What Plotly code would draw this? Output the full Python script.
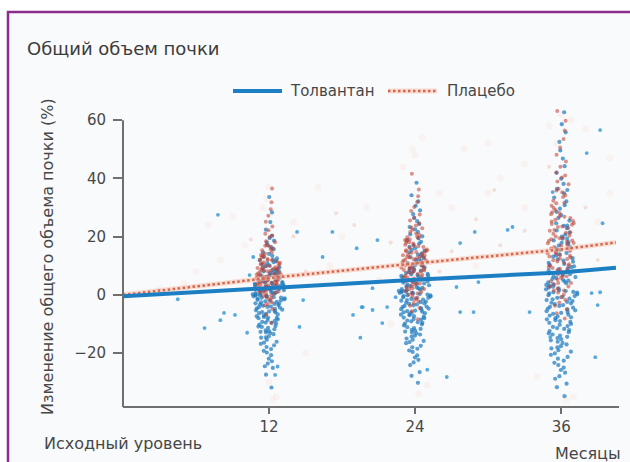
import plotly.graph_objects as go

# --- data -------------------------------------------------------------
months = [0, 12, 24, 36, 40.5]
tolvaptan_mean = [-0.5, 2.5, 5.2, 7.7, 9.3]
placebo_mean = [0.0, 5.8, 10.8, 15.6, 18.0]

visit_months = [12, 24, 36]

tolvaptan_12 = [-31.8, -27.4, -25.1, -23.6, -21.9, -20.7, -19.8, -18.6, -17.9, -16.8,
                -16.1, -15.4, -14.7, -14.2, -13.5, -12.9, -12.4, -11.8, -11.3, -10.7,
                -10.2, -9.8, -9.3, -8.9, -8.4, -8.0, -7.6, -7.1, -6.7, -6.3, -5.9, -5.5,
                -5.1, -4.8, -4.4, -4.0, -3.7, -3.3, -2.9, -2.6, -2.2, -1.9, -1.5, -1.2,
                -0.8, -0.5, -0.1, 0.2, 0.6, 0.9, 1.3, 1.6, 2.0, 2.3, 2.7, 3.1, 3.4, 3.8,
                4.2, 4.6, 5.0, 5.4, 5.9, 6.3, 6.8, 7.2, 7.7, 8.3, 8.8, 9.4, 10.1, 10.8,
                11.6, 12.5, 13.4, 14.5, 15.7, 17.0, 18.6, 20.3, 22.4, 25.0, 28.3, 33.6,
                -13.1, -9.5, -6.0, -3.0, -0.3, 1.9, 4.0, 6.6, -11.0, -7.9, -4.2, -1.0,
                0.4, 2.9, 5.6, 8.0,
                -14.6, -12.2, -10.9, -9.6, -8.6, -7.8, -7.3, -6.5, -5.7, -5.3, -4.6,
                -4.1, -3.5, -3.1, -2.4, -2.0, -1.7, -1.3, -0.9, -0.6, -0.2, 0.1, 0.3,
                0.7, 1.1, 1.4, 1.8, 2.1, 2.5, 2.8, 3.2, 3.6, 4.1, 4.4, 4.8, 5.2, 5.7, 6.1,
                6.5, 7.0, 7.5, 8.1, 8.6, 9.1, 9.8, 10.5, 11.2, 12.1, 13.0, 14.1, -19.2,
                -16.4, -12.7, -17.3, 16.3, 18.0, 19.5, -22.8, -24.5, 11.9]
placebo_12 = [-9.6, -6.8, -4.9, -3.6, -2.5, -1.6, -0.8, -0.1, 0.6, 1.2, 1.8, 2.3, 2.8,
              3.3, 3.8, 4.2, 4.7, 5.1, 5.6, 6.0, 6.5, 6.9, 7.4, 7.9, 8.4, 8.9, 9.5, 10.1,
              10.8, 11.5, 12.3, 13.2, 14.2, 15.3, 16.6, 18.1, 19.9, 22.2, 25.1, 29.4,
              36.5, 0.9, 2.0, 3.0, 4.0, 5.3, 6.3, 7.1, 8.1, 9.2, 10.4, 11.9, 13.7, 15.9,
              1.5, 3.6, 5.8, 8.6, 12.0, 17.2, -1.2, 4.5, 6.7, 9.8, 21.0,
              -3.1, -0.4, 0.3, 1.0, 1.6, 2.1, 2.6, 3.1, 3.5, 4.0, 4.4, 4.9, 5.4, 5.8,
              6.2, 6.6, 7.2, 7.6, 8.2, 8.7, 9.3, 9.9, 10.6, 11.2, 12.0, 12.8, 13.5,
              14.6, 15.6, 16.9, 18.4, 20.4, 23.5, 27.2, 31.8, 2.5, 5.0, 7.0, 9.0, 11.0]

tolvaptan_24 = [-30.2, -26.5, -24.1, -22.3, -20.8, -19.6, -18.5, -17.5, -16.6, -15.8,
                -15.0, -14.3, -13.6, -12.9, -12.3, -11.7, -11.1, -10.5, -9.9, -9.4, -8.8,
                -8.3, -7.8, -7.3, -6.8, -6.3, -5.8, -5.4, -4.9, -4.5, -4.0, -3.6, -3.1,
                -2.7, -2.3, -1.8, -1.4, -1.0, -0.6, -0.1, 0.3, 0.7, 1.1, 1.6, 2.0, 2.4,
                2.9, 3.3, 3.7, 4.2, 4.6, 5.1, 5.5, 6.0, 6.5, 7.0, 7.5, 8.0, 8.6, 9.1, 9.7,
                10.3, 10.9, 11.6, 12.3, 13.0, 13.8, 14.6, 15.5, 16.5, 17.6, 18.8, 20.1,
                21.6, 23.3, 25.3, 27.7, 30.6, 34.2, 38.5, -16.2, -12.0, -9.1, -6.1, -3.8,
                -0.4, 0.9, 1.4, 2.2, 3.0, 4.4, 6.8, 8.3, 12.7, -14.0, -7.0, 5.8, 10.6,
                -21.5, -18.0, -15.4, -13.2, -11.4, -10.1, -9.6, -8.5, -8.0, -7.5, -6.6,
                -6.0, -5.6, -5.1, -4.7, -4.2, -3.3, -2.9, -2.5, -2.0, -1.6, -1.2, -0.8,
                -0.2, 0.1, 0.5, 0.8, 1.3, 1.8, 2.6, 3.5, 3.9, 4.8, 5.3, 6.2, 6.7, 7.2,
                7.8, 8.8, 9.4, 10.0, 11.3, 11.9, 13.4, 14.2, 15.1, 16.0, 17.1, 18.2,
                19.4, 20.8, 22.5, 24.3, 26.4, 29.0, 32.1, -23.2, -19.1, -12.6, -27.8]
placebo_24 = [-8.4, -5.6, -3.7, -2.2, -1.0, 0.1, 1.0, 1.9, 2.7, 3.5, 4.2, 4.9, 5.6, 6.2,
              6.9, 7.5, 8.1, 8.7, 9.3, 9.9, 10.5, 11.1, 11.7, 12.3, 12.9, 13.6, 14.2, 14.9,
              15.6, 16.4, 17.2, 18.1, 19.0, 20.0, 21.1, 22.4, 23.8, 25.5, 27.6, 30.2,
              33.9, 41.6, 2.3, 4.5, 6.0, 7.8, 9.0, 10.2, 11.4, 12.6, 13.9, 15.2, 16.9,
              18.6, 20.6, 0.6, 5.2, 8.4, 11.9, 14.5, 17.6, 22.9, -1.6, 3.1, 9.6, 13.3,
              -4.5, -2.8, -0.5, 0.5, 1.4, 2.0, 3.9, 4.7, 5.3, 6.6, 7.2, 8.0, 8.9, 9.5,
              10.0, 10.8, 11.5, 12.1, 12.8, 13.6, 14.7, 15.3, 16.1, 16.7, 17.9, 18.8,
              19.5, 21.6, 23.1, 24.6, 26.5, 28.8, 31.9, 36.2, 6.1, 8.5, 11.0, 13.0,
              15.0, 19.8]

tolvaptan_36 = [-34.8, -30.5, -27.9, -25.8, -24.1, -22.6, -21.3, -20.1, -19.0, -18.0,
                -17.0, -16.1, -15.2, -14.4, -13.6, -12.8, -12.1, -11.4, -10.7, -10.0,
                -9.3, -8.7, -8.0, -7.4, -6.8, -6.2, -5.6, -5.0, -4.4, -3.8, -3.2, -2.7,
                -2.1, -1.5, -1.0, -0.4, 0.2, 0.8, 1.3, 1.9, 2.5, 3.1, 3.7, 4.3, 4.9, 5.5,
                6.1, 6.8, 7.4, 8.1, 8.8, 9.5, 10.2, 11.0, 11.8, 12.6, 13.5, 14.4, 15.4,
                16.4, 17.5, 18.7, 20.0, 21.4, 22.9, 24.6, 26.4, 28.5, 30.8, 33.4, 36.4,
                39.9, 44.2, 49.6, 55.8, 62.7, -18.4, -14.8, -11.7, -9.0, -6.5, -4.1, -1.8,
                0.5, 2.8, 5.2, 7.7, 10.6, 13.9, 17.9, 23.7, -16.5, -7.7, 1.0, 9.1, 19.3,
                -28.8, -26.7, -23.3, -21.9, -20.6, -19.5, -17.6, -15.6, -14.0, -13.2,
                -12.4, -11.0, -10.3, -9.6, -8.4, -7.1, -5.9, -5.3, -4.7, -3.5, -2.9, -2.4,
                -1.3, -0.7, -0.1, 0.9, 1.6, 2.2, 3.4, 4.0, 4.6, 5.8, 6.4, 7.1, 8.4, 9.8,
                11.4, 12.2, 13.1, 14.9, 15.9, 17.0, 18.1, 19.3, 20.7, 22.1, 23.8, 25.5,
                27.4, 29.6, 32.1, 34.9, 38.1, 41.9, 46.8, 52.5, 58.6, -31.7, -25.0, 36.0]
placebo_36 = [-8.1, -4.9, -2.6, -0.8, 0.8, 2.2, 3.5, 4.7, 5.9, 7.0, 8.0, 9.0, 10.0, 11.0,
              11.9, 12.8, 13.7, 14.6, 15.5, 16.4, 17.3, 18.2, 19.1, 20.0, 21.0, 22.0,
              23.0, 24.1, 25.2, 26.4, 27.7, 29.1, 30.6, 32.3, 34.2, 36.4, 38.9, 42.0,
              45.8, 50.6, 56.4, 63.1, 4.1, 6.4, 8.6, 10.5, 12.3, 14.1, 15.9, 17.7, 19.6,
              21.5, 23.5, 25.8, 28.4, 31.5, 35.2, 1.5, 9.5, 13.2, 18.7, 24.6, 2.9, 16.0,
              27.0, 40.3,
              -6.3, -3.7, -1.7, 0.0, 1.5, 2.9, 4.1, 5.3, 6.5, 7.5, 8.3, 9.2, 10.2, 11.5,
              12.5, 13.4, 14.3, 15.1, 16.9, 17.8, 18.5, 19.4, 20.4, 21.3, 22.3, 23.3,
              24.3, 25.4, 26.8, 28.1, 29.8, 31.6, 33.6, 35.8, 38.0, 41.0, 44.0, 48.1,
              53.5, 59.8]

# visits outside the scheduled windows
tolvaptan_other_x = [4.5, 8.3, 7.8, 14.3, 17.2, 19.2, 10.7, 16.4, 10.4, 20.5, 14.8, 8.0,
                     9.2, 6.7, 10.2, 14.5, 19.5, 18.9, 20.5, 19.7, 12.7, 12.5, 20.9, 19.6,
                     21.3, 21.7, 22.4, 27.4, 27.7, 28.8, 28.9, 27.7, 26.6, 25.0, 29.2,
                     31.6, 32.0, 33.4, 35.3, 39.2, 38.8, 38.5, 39.2, 39.0, 39.4, 38.1, 35.1]
tolvaptan_other_y = [-1.5, -6.2, 27.5, 21.6, 21.6, 16.0, 13.0, 13.0, 6.8, 2.3, -1.8, -8.7,
                     -6.9, -11.4, -13.0, -11.0, -14.7, -6.9, -5.2, -4.2, -24.6, -27.5,
                     18.8, -4.2, -9.7, -4.2, -0.8, 2.7, -5.9, -5.9, 21.6, 17.8, -28.2,
                     -25.7, 4.4, 22.3, 23.3, -5.9, 35.3, 56.6, -21.4, 0.6, 0.9, -3.5, 24.6,
                     48.7, -14.5]

placebo_other_x = [14.0, 19.0, 22.0, 27.0, 29.0, 33.0, 38.0, 39.0, 10.5, 15.0, 26.0,
                   31.0, 35.0, 17.5, 30.5]
placebo_other_y = [20.0, 24.0, 18.0, 15.0, 26.0, 22.0, 30.0, 12.0, 19.0, 8.0, 8.0, 17.0,
                   44.0, 28.0, 36.0]

placebo_faint_x = [12.0, 11.5, 12.6, 33.0, 38.0, 40.0, 31.0, 28.0, 30.0, 23.0, 24.0, 26.0,
                   20.0, 16.0, 9.0, 7.0, 5.0, 3.0, 10.0, 14.0, 18.0, 22.0, 34.0, 37.0,
                   12.3, 24.3, 36.4, 12.0, 15.0, 29.0, 33.0, 39.0, 40.0, 36.0, 35.0, 30.0,
                   21.0, 17.0, 27.0, 8.0, 6.0, 24.6, 23.8, 36.8, 35.6, 11.8, 25.0]
placebo_faint_y = [37.0, 30.0, -35.0, 45.0, 57.0, 47.0, 40.0, 50.0, 52.0, 44.0, 48.0,
                   35.0, 30.0, 37.0, 27.0, 24.0, 4.0, 2.0, 17.0, 25.0, 20.0, -10.0, -28.0,
                   -35.0, -36.0, -34.0, -36.0, -30.0, -20.0, 10.0, 30.0, 25.0, 35.0, 62.0,
                   58.0, 35.0, 5.0, 10.0, 30.0, 12.0, 8.0, 54.0, 50.0, 60.0, 52.0, 33.0,
                   -31.0]

y_ticks = [-20, 0, 20, 40, 60]
y_tick_text = ["\u221220", "0", "20", "40", "60"]
x_tick_text = ["12", "24", "36"]

BLUE = "#1d7fc3"
PT_BLUE = "#1f7cbf"
RED = "#bf3d2e"
FONT = "DejaVu Sans"
TEXT = "#474747"
AXIS = "#6f6f6f"
HALO = "rgba(246,196,178,0.55)"
DOTS = "#d9664c"

fig = go.Figure()

clusters = [
    (12, tolvaptan_12, placebo_12),
    (24, tolvaptan_24, placebo_24),
    (36, tolvaptan_36, placebo_36),
]

# points at the scheduled visits, spread horizontally by the box jitter
for m, tol, pla in clusters:
    fig.add_trace(go.Box(
        y=tol, x0=m, width=2.7, boxpoints="all", jitter=1, pointpos=0,
        fillcolor="rgba(0,0,0,0)", line=dict(width=0, color="rgba(0,0,0,0)"),
        whiskerwidth=0,
        marker=dict(color=PT_BLUE, size=4.2, opacity=0.72),
        showlegend=False, hoverinfo="y"))
for m, tol, pla in clusters:
    fig.add_trace(go.Box(
        y=pla, x0=m, width=2.3, boxpoints="all", jitter=1, pointpos=0,
        fillcolor="rgba(0,0,0,0)", line=dict(width=0, color="rgba(0,0,0,0)"),
        whiskerwidth=0,
        marker=dict(color=RED, size=4.0, opacity=0.55),
        showlegend=False, hoverinfo="y"))

fig.add_trace(go.Scatter(
    x=placebo_faint_x, y=placebo_faint_y, mode="markers",
    marker=dict(color="#f2b3a0", size=7, opacity=0.1),
    showlegend=False, hoverinfo="skip"))
fig.add_trace(go.Scatter(
    x=tolvaptan_other_x, y=tolvaptan_other_y, mode="markers",
    marker=dict(color="#2f95d4", size=3.8, opacity=0.8),
    showlegend=False))
fig.add_trace(go.Scatter(
    x=placebo_other_x, y=placebo_other_y, mode="markers",
    marker=dict(color="#e48a72", size=4, opacity=0.25),
    showlegend=False))

# mean trajectories
fig.add_trace(go.Scatter(
    x=months, y=placebo_mean, mode="lines",
    line=dict(color=HALO, width=5),
    showlegend=False, hoverinfo="skip"))
fig.add_trace(go.Scatter(
    x=months, y=placebo_mean, mode="lines", name="Плацебо",
    line=dict(color=DOTS, width=2.5, dash="2.5px,2.5px"),
    showlegend=False))
fig.add_trace(go.Scatter(
    x=months, y=tolvaptan_mean, mode="lines", name="Толвантан",
    line=dict(color=BLUE, width=4),
    showlegend=False))


def px_x(p):
    return (p - 123) / 496.0


def px_y(p):
    return (407 - p) / 304.0


shapes = [
    # framed panel
    dict(type="rect", xref="paper", yref="paper",
         x0=px_x(8), x1=px_x(660), y0=px_y(480), y1=px_y(12),
         fillcolor="#f9fafb", line=dict(color="#8d2b8f", width=2.5), layer="below"),
    # axis lines
    dict(type="line", xref="paper", yref="paper", x0=0, x1=1, y0=0, y1=0,
         line=dict(color=AXIS, width=2)),
    dict(type="line", xref="paper", yref="paper", x0=0, x1=0, y0=0,
         y1=(60 + 38.5) / 104.38, line=dict(color=AXIS, width=2)),
    # legend samples
    dict(type="line", xref="paper", yref="paper", x0=px_x(233), x1=px_x(282),
         y0=px_y(91), y1=px_y(91), line=dict(color=BLUE, width=4)),
    dict(type="line", xref="paper", yref="paper", x0=px_x(388), x1=px_x(437),
         y0=px_y(91), y1=px_y(91), line=dict(color=HALO, width=5)),
    dict(type="line", xref="paper", yref="paper", x0=px_x(388), x1=px_x(437),
         y0=px_y(91), y1=px_y(91), line=dict(color=DOTS, width=2.5, dash="2.5px,2.5px")),
]

annotations = [
    dict(text="Толвантан", xref="paper", yref="paper", x=px_x(288), y=px_y(91),
         xanchor="left", yanchor="middle", showarrow=False,
         font=dict(family=FONT, size=15, color=TEXT)),
    dict(text="Плацебо", xref="paper", yref="paper", x=px_x(445), y=px_y(91),
         xanchor="left", yanchor="middle", showarrow=False,
         font=dict(family=FONT, size=15, color=TEXT)),
    dict(text="Изменение общего объема почки (%)", xref="paper", yref="paper",
         x=px_x(47), y=px_y(257), textangle=-90, xanchor="center", yanchor="middle",
         showarrow=False, font=dict(family=FONT, size=16, color=TEXT)),
    dict(text="Исходный уровень", xref="x", yref="paper", x=0, y=px_y(443),
         xanchor="center", yanchor="middle", showarrow=False,
         font=dict(family=FONT, size=16, color=TEXT)),
    dict(text="Месяцы", xref="paper", yref="paper", x=px_x(588), y=px_y(453),
         xanchor="center", yanchor="middle", showarrow=False,
         font=dict(family=FONT, size=16, color=TEXT)),
]

fig.update_layout(
    width=630, height=462,
    margin=dict(l=123, r=11, t=103, b=55, pad=0),
    paper_bgcolor="white",
    plot_bgcolor="rgba(0,0,0,0)",
    title=dict(text="Общий объем почки", x=27 / 630, xanchor="left",
               y=1 - 49 / 462, yanchor="middle", xref="container", yref="container",
               font=dict(family=FONT, size=18, color="#3c3c3c")),
    shapes=shapes,
    annotations=annotations,
    showlegend=False,
    font=dict(family=FONT, color=TEXT),
)
fig.update_xaxes(
    range=[0, 40.75], tickvals=visit_months, ticktext=x_tick_text,
    ticks="outside", ticklen=6, tickwidth=2, tickcolor=AXIS,
    showline=False, showgrid=False, zeroline=False,
    tickfont=dict(family=FONT, size=15, color=TEXT))
fig.update_yaxes(
    range=[-38.5, 65.88], tickvals=y_ticks, ticktext=y_tick_text,
    ticks="outside", ticklen=9, tickwidth=2, tickcolor=AXIS,
    showline=False, showgrid=False, zeroline=False, ticklabelstandoff=4,
    tickfont=dict(family=FONT, size=15, color=TEXT))

fig.write_html("out.html")
